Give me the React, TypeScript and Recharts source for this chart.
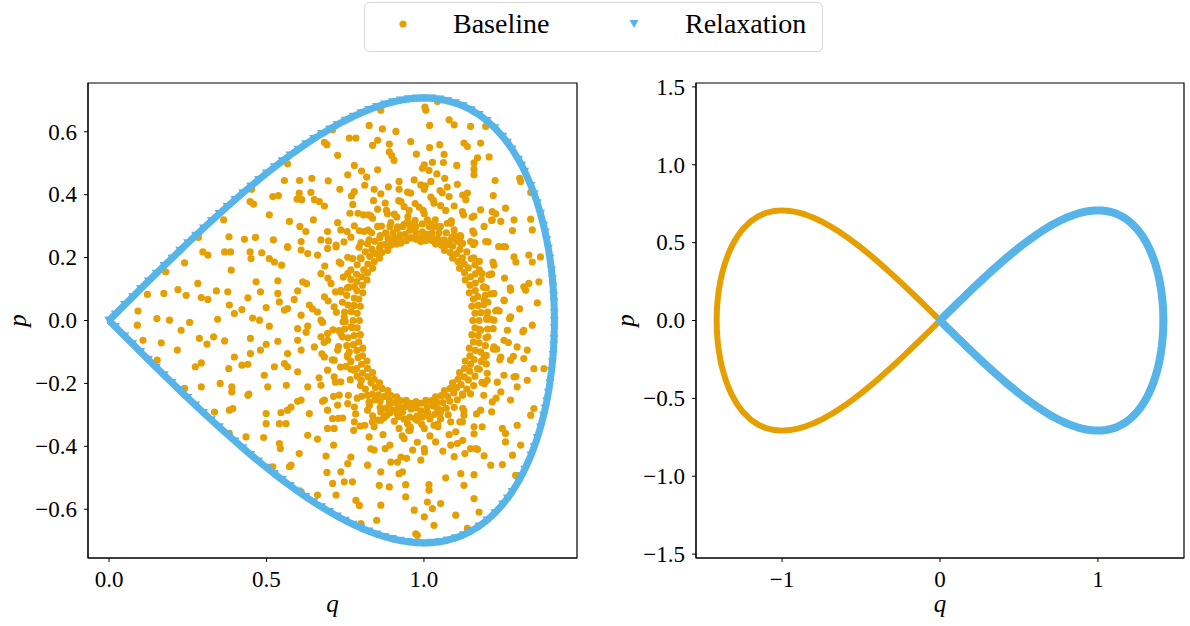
import React from "react"
import { ScatterChart, Scatter, XAxis, YAxis, ReferenceArea } from "recharts"

const ORANGE = "#E69F00"
const BLUE = "#56B4E9"
const FONT = '"Liberation Serif", "DejaVu Serif", serif'

type Pt = [number, number]

// separatrix traced by the relaxation run (upper branch, then lower branch)
const relaxUpper: Pt[] = [
  [0, 0], [0.02, 0.02], [0.05, 0.05], [0.075, 0.0749], [0.1, 0.0998], [0.125, 0.1245], [0.15, 0.1492],
  [0.175, 0.1737], [0.2, 0.198], [0.225, 0.2221], [0.25, 0.2461], [0.275, 0.2697], [0.3, 0.2932],
  [0.325, 0.3163], [0.35, 0.3391], [0.375, 0.3616], [0.4, 0.3837], [0.425, 0.4054], [0.45, 0.4266],
  [0.475, 0.4474], [0.5, 0.4677], [0.525, 0.4875], [0.55, 0.5067], [0.575, 0.5253], [0.6, 0.5433],
  [0.625, 0.5607], [0.65, 0.5773], [0.675, 0.5932], [0.7, 0.6082], [0.725, 0.6225], [0.75, 0.6358],
  [0.775, 0.6483], [0.8, 0.6597], [0.825, 0.6701], [0.85, 0.6793], [0.875, 0.6874], [0.9, 0.6942],
  [0.925, 0.6997], [0.95, 0.7037], [0.975, 0.7062], [1.0, 0.7071], [1.025, 0.7062], [1.05, 0.7034],
  [1.075, 0.6985], [1.1, 0.6913], [1.125, 0.6817], [1.15, 0.6693], [1.175, 0.6539], [1.2, 0.635],
  [1.225, 0.6121], [1.25, 0.5846], [1.265, 0.5656], [1.28, 0.5443], [1.3, 0.5118], [1.31, 0.4936],
  [1.32, 0.4737], [1.34, 0.4284], [1.35, 0.4022], [1.36, 0.373], [1.37, 0.3399], [1.38, 0.3017],
  [1.385, 0.2801], [1.39, 0.2561], [1.395, 0.2292], [1.4, 0.198], [1.405, 0.1601], [1.408, 0.1318],
  [1.41, 0.1088], [1.412, 0.079], [1.413, 0.0585], [1.414, 0.0246], [1.4142, 0],
]
const relaxLower: Pt[] = [
  [1.414, -0.0246], [1.413, -0.0585], [1.412, -0.079], [1.41, -0.1088], [1.408, -0.1318], [1.405, -0.1601],
  [1.4, -0.198], [1.395, -0.2292], [1.39, -0.2561], [1.385, -0.2801], [1.38, -0.3017], [1.37, -0.3399],
  [1.36, -0.373], [1.35, -0.4022], [1.34, -0.4284], [1.32, -0.4737], [1.31, -0.4936], [1.3, -0.5118],
  [1.28, -0.5443], [1.265, -0.5656], [1.25, -0.5846], [1.225, -0.6121], [1.2, -0.635], [1.175, -0.6539],
  [1.15, -0.6693], [1.125, -0.6817], [1.1, -0.6913], [1.075, -0.6985], [1.05, -0.7034], [1.025, -0.7062],
  [1.0, -0.7071], [0.975, -0.7062], [0.95, -0.7037], [0.925, -0.6997], [0.9, -0.6942], [0.875, -0.6874],
  [0.85, -0.6793], [0.825, -0.6701], [0.8, -0.6597], [0.775, -0.6483], [0.75, -0.6358], [0.725, -0.6225],
  [0.7, -0.6082], [0.675, -0.5932], [0.65, -0.5773], [0.625, -0.5607], [0.6, -0.5433], [0.575, -0.5253],
  [0.55, -0.5067], [0.525, -0.4875], [0.5, -0.4677], [0.475, -0.4474], [0.45, -0.4266], [0.425, -0.4054],
  [0.4, -0.3837], [0.375, -0.3616], [0.35, -0.3391], [0.325, -0.3163], [0.3, -0.2932], [0.275, -0.2697],
  [0.25, -0.2461], [0.225, -0.2221], [0.2, -0.198], [0.175, -0.1737], [0.15, -0.1492], [0.125, -0.1245],
  [0.1, -0.0998], [0.075, -0.0749], [0.05, -0.05], [0.02, -0.02], [0, 0],
]

// baseline orbit in the right panel (left lobe)
const lobeUpper: Pt[] = [
  [0, 0], [-0.05, 0.05], [-0.1, 0.0998], [-0.15, 0.1492], [-0.2, 0.198], [-0.25, 0.2461], [-0.3, 0.2932],
  [-0.35, 0.3391], [-0.4, 0.3837], [-0.45, 0.4266], [-0.5, 0.4677], [-0.55, 0.5067], [-0.6, 0.5433],
  [-0.65, 0.5773], [-0.7, 0.6082], [-0.75, 0.6358], [-0.8, 0.6597], [-0.85, 0.6793], [-0.9, 0.6942],
  [-0.95, 0.7037], [-1.0, 0.7071], [-1.05, 0.7034], [-1.1, 0.6913], [-1.15, 0.6693], [-1.2, 0.635],
  [-1.25, 0.5846], [-1.28, 0.5443], [-1.3, 0.5118], [-1.32, 0.4737], [-1.34, 0.4284], [-1.36, 0.373],
  [-1.38, 0.3017], [-1.39, 0.2561], [-1.4, 0.198], [-1.405, 0.1601], [-1.41, 0.1088], [-1.413, 0.0585],
  [-1.4142, 0],
]
const lobeLower: Pt[] = [
  [-1.413, -0.0585], [-1.41, -0.1088], [-1.405, -0.1601], [-1.4, -0.198], [-1.39, -0.2561], [-1.38, -0.3017],
  [-1.36, -0.373], [-1.34, -0.4284], [-1.32, -0.4737], [-1.3, -0.5118], [-1.28, -0.5443], [-1.25, -0.5846],
  [-1.2, -0.635], [-1.15, -0.6693], [-1.1, -0.6913], [-1.05, -0.7034], [-1.0, -0.7071], [-0.95, -0.7037],
  [-0.9, -0.6942], [-0.85, -0.6793], [-0.8, -0.6597], [-0.75, -0.6358], [-0.7, -0.6082], [-0.65, -0.5773],
  [-0.6, -0.5433], [-0.55, -0.5067], [-0.5, -0.4677], [-0.45, -0.4266], [-0.4, -0.3837], [-0.35, -0.3391],
  [-0.3, -0.2932], [-0.25, -0.2461], [-0.2, -0.198], [-0.15, -0.1492], [-0.1, -0.0998], [-0.05, -0.05], [0, 0],
]

// baseline samples, left panel: dense ring around the hole
const ringInner: Pt[] = [
  [1.155, 0], [1.152, 0.045], [1.144, 0.088], [1.131, 0.129], [1.113, 0.166], [1.091, 0.198], [1.065, 0.223],
  [1.037, 0.243], [1.006, 0.254], [0.975, 0.258], [0.944, 0.254], [0.913, 0.243], [0.885, 0.223], [0.859, 0.198],
  [0.837, 0.166], [0.819, 0.129], [0.806, 0.088], [0.798, 0.045], [0.795, 0], [0.798, -0.045], [0.806, -0.088],
  [0.819, -0.129], [0.837, -0.166], [0.859, -0.198], [0.885, -0.223], [0.913, -0.243], [0.944, -0.254],
  [0.975, -0.258], [1.006, -0.254], [1.037, -0.243], [1.065, -0.223], [1.091, -0.198], [1.113, -0.166],
  [1.131, -0.129], [1.144, -0.088], [1.152, -0.045],
]
const ringInner2: Pt[] = [
  [1.162, 0.023], [1.157, 0.068], [1.146, 0.112], [1.129, 0.152], [1.108, 0.187], [1.083, 0.216], [1.055, 0.239],
  [1.024, 0.255], [0.991, 0.263], [0.959, 0.263], [0.926, 0.255], [0.895, 0.239], [0.867, 0.216], [0.842, 0.187],
  [0.821, 0.152], [0.805, 0.112], [0.793, 0.068], [0.788, 0.023], [0.788, -0.023], [0.793, -0.068], [0.805, -0.112],
  [0.821, -0.152], [0.842, -0.187], [0.867, -0.216], [0.895, -0.239], [0.926, -0.255], [0.959, -0.263],
  [0.991, -0.263], [1.024, -0.255], [1.055, -0.239], [1.083, -0.216], [1.108, -0.187], [1.129, -0.152],
  [1.146, -0.112], [1.157, -0.068], [1.162, -0.023],
]
const ringInner3: Pt[] = [
  [1.175, 0], [1.172, 0.048], [1.163, 0.095], [1.148, 0.139], [1.128, 0.179], [1.104, 0.213], [1.075, 0.241],
  [1.043, 0.261], [1.01, 0.274], [0.975, 0.278], [0.94, 0.274], [0.907, 0.261], [0.875, 0.241], [0.846, 0.213],
  [0.822, 0.179], [0.802, 0.139], [0.787, 0.095], [0.778, 0.048], [0.775, 0], [0.778, -0.048], [0.787, -0.095],
  [0.802, -0.139], [0.822, -0.179], [0.846, -0.213], [0.875, -0.241], [0.907, -0.261], [0.94, -0.274],
  [0.975, -0.278], [1.01, -0.274], [1.043, -0.261], [1.075, -0.241], [1.104, -0.213], [1.128, -0.179],
  [1.148, -0.139], [1.163, -0.095], [1.172, -0.048],
]
const ringMid: Pt[] = [
  [1.181, 0.025], [1.171, 0.076], [1.163, 0.119], [1.141, 0.167], [1.122, 0.199], [1.091, 0.236], [1.064, 0.256],
  [1.026, 0.278], [0.995, 0.282], [0.955, 0.287], [0.924, 0.272], [0.886, 0.261], [0.859, 0.230], [0.828, 0.204],
  [0.809, 0.161], [0.787, 0.124], [0.779, 0.071], [0.769, 0.028], [0.772, -0.022], [0.776, -0.077], [0.791, -0.118],
  [0.805, -0.167], [0.832, -0.198], [0.855, -0.236], [0.890, -0.255], [0.920, -0.278], [0.959, -0.281],
  [0.991, -0.287], [1.030, -0.272], [1.060, -0.261], [1.095, -0.230], [1.118, -0.204], [1.145, -0.161],
  [1.159, -0.124], [1.175, -0.071], [1.177, -0.028],
]
const ringMid2: Pt[] = [
  [1.199, 0.004], [1.19, 0.05], [1.189, 0.106], [1.163, 0.148], [1.15, 0.197], [1.114, 0.226], [1.09, 0.265],
  [1.048, 0.279], [1.017, 0.299], [0.973, 0.296], [0.933, 0.299], [0.902, 0.279], [0.86, 0.263], [0.835, 0.226],
  [0.801, 0.196], [0.786, 0.147], [0.762, 0.106], [0.759, 0.049], [0.75, -0.003], [0.759, -0.055], [0.763, -0.1],
  [0.786, -0.153], [0.801, -0.19], [0.836, -0.234], [0.861, -0.256], [0.903, -0.285], [0.932, -0.291],
  [0.978, -0.304], [1.011, -0.291], [1.054, -0.285], [1.082, -0.256], [1.122, -0.234], [1.141, -0.189],
  [1.17, -0.153], [1.18, -0.1], [1.197, -0.055],
]
const ringMid3: Pt[] = [
  [1.202, 0.027], [1.195, 0.08], [1.182, 0.13], [1.162, 0.177], [1.136, 0.218], [1.106, 0.252], [1.071, 0.279],
  [1.034, 0.298], [0.995, 0.307], [0.955, 0.307], [0.916, 0.298], [0.879, 0.279], [0.844, 0.252], [0.814, 0.218],
  [0.788, 0.177], [0.768, 0.13], [0.755, 0.08], [0.748, 0.027], [0.748, -0.027], [0.755, -0.08], [0.768, -0.13],
  [0.788, -0.177], [0.814, -0.218], [0.844, -0.252], [0.879, -0.279], [0.916, -0.298], [0.955, -0.307],
  [0.995, -0.307], [1.034, -0.298], [1.071, -0.279], [1.106, -0.252], [1.136, -0.218], [1.162, -0.177],
  [1.182, -0.13], [1.195, -0.08], [1.202, -0.027],
]
const ringOuter: Pt[] = [
  [1.212, 0.004], [1.203, 0.058], [1.198, 0.104], [1.176, 0.161], [1.158, 0.199], [1.123, 0.245], [1.096, 0.270],
  [1.052, 0.299], [1.019, 0.307], [0.972, 0.318], [0.937, 0.306], [0.892, 0.299], [0.861, 0.270], [0.821, 0.244],
  [0.798, 0.199], [0.768, 0.161], [0.757, 0.104], [0.741, 0.058], [0.743, -0.004], [0.741, -0.052], [0.757, -0.111],
  [0.768, -0.155], [0.798, -0.207], [0.821, -0.238], [0.861, -0.276], [0.892, -0.293], [0.937, -0.313],
  [0.972, -0.312], [1.019, -0.313], [1.052, -0.293], [1.096, -0.276], [1.123, -0.238], [1.158, -0.207],
  [1.176, -0.155], [1.198, -0.111], [1.203, -0.052],
]
const ringOuter2: Pt[] = [
  [1.228, 0.031], [1.212, 0.085], [1.207, 0.145], [1.176, 0.188], [1.157, 0.241], [1.115, 0.27], [1.086, 0.309],
  [1.036, 0.32], [1.001, 0.339], [0.949, 0.33], [0.914, 0.329], [0.865, 0.3], [0.834, 0.279], [0.794, 0.233],
  [0.774, 0.197], [0.744, 0.138], [0.737, 0.091], [0.722, 0.026], [0.73, -0.032], [0.729, -0.083], [0.752, -0.146],
  [0.766, -0.188], [0.802, -0.241], [0.827, -0.27], [0.873, -0.309], [0.906, -0.32], [0.957, -0.339],
  [0.993, -0.33], [1.044, -0.329], [1.077, -0.3], [1.123, -0.279], [1.148, -0.233], [1.184, -0.197],
  [1.198, -0.138], [1.221, -0.091], [1.22, -0.026],
]
const ringFar: Pt[] = [
  [1.239, 0.03], [1.215, 0.148], [1.162, 0.247], [1.087, 0.317], [0.998, 0.349], [0.906, 0.338], [0.823, 0.287],
  [0.758, 0.201], [0.719, 0.091], [0.711, -0.03], [0.735, -0.148], [0.788, -0.247], [0.863, -0.317],
  [0.952, -0.349], [1.044, -0.338], [1.127, -0.287], [1.192, -0.201], [1.231, -0.091],
]
const ringFar2: Pt[] = [
  [1.272, 0.006], [1.255, 0.063], [1.256, 0.135], [1.219, 0.186], [1.204, 0.25], [1.155, 0.285], [1.126, 0.336],
  [1.069, 0.35], [1.03, 0.382], [0.972, 0.372], [0.92, 0.381], [0.881, 0.35], [0.824, 0.336], [0.795, 0.285],
  [0.746, 0.25], [0.731, 0.186], [0.695, 0.135], [0.696, 0.062], [0.678, -0.006], [0.683, -0.07], [0.709, -0.125],
  [0.719, -0.196], [0.76, -0.238], [0.783, -0.297], [0.836, -0.322], [0.87, -0.363], [0.931, -0.367],
  [0.979, -0.387], [1.019, -0.367], [1.08, -0.363], [1.114, -0.322], [1.167, -0.297], [1.19, -0.238],
  [1.233, -0.196], [1.241, -0.125], [1.268, -0.07],
]
const ringHalo: Pt[] = [
  [1.304, 0.037], [1.274, 0.104], [1.292, 0.186], [1.237, 0.235], [1.215, 0.318], [1.153, 0.328], [1.123, 0.399],
  [1.058, 0.406], [1.004, 0.428], [0.948, 0.408], [0.887, 0.425], [0.84, 0.381], [0.774, 0.369], [0.756, 0.283],
  [0.697, 0.253], [0.685, 0.173], [0.627, 0.117], [0.646, 0.037], [0.626, -0.037], [0.676, -0.106], [0.667, -0.182],
  [0.713, -0.241], [0.728, -0.311], [0.797, -0.336], [0.831, -0.408], [0.892, -0.396], [0.945, -0.438],
  [1.002, -0.418], [1.06, -0.415], [1.123, -0.381], [1.159, -0.36], [1.215, -0.29], [1.229, -0.247],
  [1.292, -0.178], [1.284, -0.114], [1.314, -0.036],
]

// baseline samples, left panel: scattered points
const scatterTop: Pt[] = [
  [1.003, 0.678], [1.006, 0.668], [1.043, 0.696], [0.863, 0.668], [0.826, 0.62], [0.868, 0.609], [0.911, 0.601],
  [1.018, 0.62], [1.08, 0.638], [1.096, 0.622], [1.148, 0.617], [1.196, 0.617], [0.71, 0.606], [0.763, 0.58],
  [0.784, 0.58], [0.684, 0.566], [0.692, 0.559], [0.837, 0.557], [0.853, 0.573], [0.89, 0.561], [0.958, 0.569],
  [1.018, 0.55], [1.05, 0.559], [1.127, 0.564], [1.138, 0.553], [1.18, 0.564], [0.726, 0.525], [0.89, 0.536],
  [0.898, 0.524], [0.905, 0.509], [0.976, 0.529], [1.064, 0.528], [1.207, 0.52], [1.17, 0.517], [1.159, 0.501],
  [1.159, 0.481], [1.159, 0.463], [1.027, 0.503], [1.001, 0.495], [0.995, 0.484], [1.016, 0.477], [1.062, 0.502],
  [1.104, 0.493], [1.041, 0.466], [0.567, 0.498], [0.779, 0.493], [0.802, 0.475], [0.853, 0.479], [0.758, 0.463],
  [0.818, 0.456], [0.969, 0.447], [1.022, 0.442], [1.066, 0.452], [1.226, 0.445], [1.304, 0.452], [1.307, 0.442],
  [0.557, 0.445], [0.605, 0.445], [0.644, 0.452], [0.696, 0.444], [0.733, 0.417], [0.779, 0.41], [0.77, 0.396],
  [0.812, 0.43], [0.842, 0.417], [0.863, 0.403], [0.921, 0.442], [0.921, 0.417], [0.958, 0.405], [0.99, 0.431],
  [1.001, 0.417], [1.051, 0.413], [1.074, 0.424], [1.106, 0.433], [1.08, 0.394], [1.138, 0.405], [1.133, 0.384],
  [1.22, 0.397], [1.339, 0.407], [0.453, 0.417], [0.52, 0.394], [0.538, 0.397], [0.604, 0.405], [0.597, 0.386],
  [0.612, 0.384], [0.641, 0.407], [0.652, 0.384], [0.668, 0.378], [0.684, 0.364], [0.448, 0.378], [0.459, 0.37],
  [0.509, 0.336], [0.364, 0.32], [0.765, 0.341], [0.791, 0.341], [0.808, 0.336], [0.831, 0.333], [0.853, 0.354],
  [0.877, 0.373], [0.884, 0.339], [0.927, 0.378], [0.937, 0.362], [0.953, 0.35], [0.985, 0.36], [1.022, 0.392],
  [1.032, 0.373], [1.053, 0.365], [1.096, 0.364], [1.122, 0.346], [1.159, 0.332], [1.18, 0.352], [1.217, 0.346],
  [1.228, 0.339], [1.259, 0.357], [1.286, 0.32], [1.339, 0.322], [1.344, 0.288], [0.573, 0.315], [0.606, 0.299],
  [0.625, 0.283], [0.649, 0.32], [0.694, 0.283], [0.726, 0.311], [0.736, 0.288], [0.779, 0.301], [0.81, 0.283],
  [0.837, 0.325], [0.853, 0.299], [0.879, 0.277], [0.895, 0.311], [0.916, 0.293], [0.948, 0.314], [0.974, 0.299],
  [1.011, 0.32], [1.043, 0.299], [1.074, 0.309], [1.096, 0.288], [1.117, 0.267], [1.159, 0.277], [1.191, 0.299],
  [1.217, 0.32], [1.244, 0.315], [1.281, 0.286], [0.284, 0.264], [0.381, 0.266], [0.43, 0.258], [0.465, 0.264],
  [0.522, 0.256], [0.567, 0.235], [0.61, 0.251], [0.673, 0.256], [0.721, 0.24], [0.768, 0.265], [0.8, 0.248],
  [0.826, 0.256], [0.863, 0.24], [0.895, 0.256], [0.927, 0.246], [0.958, 0.262], [0.99, 0.251], [1.022, 0.267],
  [1.053, 0.248], [1.085, 0.256], [1.117, 0.246], [1.148, 0.251], [1.196, 0.251], [1.252, 0.235],
]
const scatterMiddle: Pt[] = [
  [0.298, 0.218], [0.314, 0.208], [0.367, 0.218], [0.386, 0.218], [0.448, 0.218], [0.485, 0.215], [0.451, 0.197],
  [0.509, 0.197], [0.525, 0.186], [0.548, 0.176], [0.567, 0.232], [0.61, 0.224], [0.631, 0.213], [0.662, 0.208],
  [0.694, 0.229], [0.721, 0.234], [0.24, 0.183], [0.18, 0.155], [0.388, 0.16], [0.282, 0.118], [0.219, 0.098],
  [0.122, 0.083], [0.174, 0.086], [0.245, 0.08], [0.293, 0.073], [0.314, 0.067], [0.341, 0.094], [0.377, 0.091],
  [0.441, 0.072], [0.467, 0.123], [0.481, 0.091], [0.536, 0.126], [0.536, 0.086], [0.599, 0.094], [0.615, 0.123],
  [0.092, 0.03], [0.152, 0.006], [0.192, 0.001], [0.256, -0.006], [0.345, 0.004], [0.382, 0.049], [0.398, 0.022],
  [0.422, 0.035], [0.456, 0.008], [0.478, 0.001], [0.499, 0.041], [0.509, -0.018], [0.541, 0.059], [0.557, 0.033],
  [0.567, 0.038], [0.588, 0.067], [0.61, 0.017], [0.636, 0.049], [0.662, 0.027], [0.673, 0.001], [0.09, -0.015],
  [0.108, -0.063], [0.166, -0.071], [0.229, -0.031], [0.287, -0.057], [0.311, -0.075], [0.332, -0.052],
  [0.367, -0.065], [0.398, -0.116], [0.449, -0.057], [0.449, -0.105], [0.481, -0.094], [0.499, -0.076],
  [0.536, -0.066], [0.557, -0.137], [0.567, -0.105], [0.599, -0.026], [0.599, -0.063], [0.61, -0.094],
  [0.631, -0.018], [0.652, -0.084], [0.684, -0.116], [0.153, -0.126], [0.217, -0.094], [0.274, -0.147],
  [0.293, -0.135], [0.38, -0.153], [0.422, -0.142], [0.441, -0.139], [0.493, -0.174], [0.525, -0.147],
  [0.567, -0.147], [0.599, -0.163], [0.631, -0.211], [0.673, -0.206], [0.694, -0.158], [0.715, -0.126],
  [0.736, -0.195], [0.24, -0.216], [0.293, -0.211], [0.353, -0.2], [0.39, -0.211], [0.39, -0.227], [0.444, -0.234],
  [0.504, -0.211], [0.563, -0.206], [0.61, -0.253], [0.684, -0.253], [0.731, -0.237],
  [0.736, 0.181], [0.758, 0.149], [0.779, 0.107], [0.736, 0.096], [0.705, 0.118], [0.715, 0.043], [0.747, 0.012],
  [0.768, -0.02], [0.736, -0.041], [0.726, -0.094], [0.758, -0.116], [0.779, -0.158], [0.8, -0.19], [0.694, -0.041],
  [0.694, -0.063], [0.673, 0.149], [0.684, 0.075], [0.673, -0.052], [0.715, -0.179],
  [1.259, 0.234], [1.286, 0.202], [1.333, 0.208], [1.344, 0.186], [1.37, 0.202], [1.317, 0.107], [1.333, 0.118],
  [1.365, 0.123], [1.323, 0.096], [1.36, 0.056], [1.275, 0.096], [1.254, 0.065], [1.222, 0.086], [1.233, 0.033],
  [1.275, 0.012], [1.222, 0.001], [1.265, -0.031], [1.317, -0.031], [1.344, -0.015], [1.254, -0.063],
  [1.296, -0.084], [1.328, -0.094], [1.222, -0.084], [1.244, -0.116], [1.275, -0.126], [1.317, -0.121],
  [1.349, -0.153], [1.381, -0.153], [1.201, -0.168], [1.254, -0.174], [1.286, -0.179], [1.328, -0.19],
  [1.244, -0.227], [1.296, -0.211], [1.201, -0.19], [1.191, 0.065], [1.185, 0.149], [1.222, 0.176], [1.191, 0.107],
  [1.18, -0.031], [1.191, -0.116], [1.201, 0.012],
]
const scatterBottom: Pt[] = [
  [0.335, -0.291], [0.382, -0.285], [0.393, -0.28], [0.441, -0.238], [0.382, -0.359], [0.435, -0.37],
  [0.491, -0.372], [0.499, -0.328], [0.499, -0.296], [0.546, -0.293], [0.541, -0.328], [0.562, -0.328],
  [0.567, -0.285], [0.578, -0.275], [0.599, -0.257], [0.541, -0.391], [0.544, -0.407], [0.52, -0.465],
  [0.573, -0.465], [0.578, -0.46], [0.604, -0.423], [0.631, -0.365], [0.636, -0.296], [0.662, -0.377],
  [0.678, -0.257], [0.694, -0.285], [0.71, -0.312], [0.715, -0.343], [0.694, -0.343], [0.713, -0.396],
  [0.689, -0.431], [0.692, -0.483], [0.71, -0.518], [0.742, -0.31], [0.726, -0.269], [0.758, -0.264],
  [0.779, -0.275], [0.779, -0.322], [0.777, -0.349], [0.812, -0.333], [0.842, -0.338], [0.853, -0.317],
  [0.863, -0.291], [0.837, -0.303], [0.821, -0.285], [0.826, -0.259], [0.882, -0.301], [0.89, -0.269],
  [0.921, -0.275], [0.921, -0.306], [0.921, -0.343], [0.948, -0.328], [0.956, -0.349], [0.979, -0.317],
  [1.001, -0.343], [1.032, -0.333], [1.011, -0.301], [1.043, -0.28], [1.053, -0.312], [1.085, -0.322],
  [1.101, -0.354], [1.122, -0.322], [1.159, -0.338], [1.185, -0.338], [1.127, -0.301], [1.18, -0.285],
  [1.217, -0.259], [1.249, -0.343], [1.259, -0.359], [1.296, -0.333], [1.275, -0.253], [1.349, -0.28],
  [1.339, -0.301], [1.307, -0.396], [1.259, -0.386], [1.281, -0.428], [1.249, -0.458], [1.212, -0.46],
  [1.291, -0.492], [1.159, -0.49], [1.117, -0.487], [1.127, -0.524], [1.069, -0.5], [1.085, -0.396],
  [1.106, -0.391], [1.096, -0.433], [1.148, -0.407], [1.164, -0.407], [1.17, -0.41], [1.191, -0.43],
  [1.13, -0.423], [1.159, -0.566], [1.175, -0.609], [1.101, -0.619], [1.138, -0.661], [1.053, -0.582],
  [1.027, -0.598], [1.032, -0.651], [1.011, -0.577], [1.016, -0.54], [1.016, -0.522], [1.037, -0.386],
  [1.001, -0.407], [0.99, -0.444], [0.964, -0.412], [0.937, -0.375], [0.927, -0.434], [0.916, -0.45],
  [0.932, -0.481], [0.942, -0.522], [0.921, -0.487], [0.895, -0.45], [0.877, -0.407], [0.842, -0.412],
  [0.863, -0.481], [0.858, -0.524], [0.863, -0.587], [0.85, -0.635], [0.942, -0.561], [0.979, -0.683],
  [1.001, -0.624], [0.969, -0.603], [0.974, -0.678], [0.89, -0.529], [0.821, -0.46], [0.826, -0.37],
  [0.768, -0.434], [0.758, -0.455], [0.736, -0.481], [0.773, -0.513], [0.747, -0.513], [0.721, -0.555],
  [0.662, -0.555], [0.784, -0.572], [0.795, -0.588], [0.8, -0.646], [0.61, -0.545],
]

const leftXTicks = [0, 0.5, 1.0]
const leftYTicks = [-0.6, -0.4, -0.2, 0, 0.2, 0.4, 0.6]
const rightXTicks = [-1, 0, 1]
const rightYTicks = [-1.5, -1.0, -0.5, 0, 0.5, 1.0, 1.5]

const toRows = (pts: Pt[]) => pts.map(([q, p]) => ({ q, p }))

const baselineLeft = toRows([
  ...ringInner, ...ringInner2, ...ringInner3, ...ringMid, ...ringMid2, ...ringMid3, ...ringOuter, ...ringOuter2,
  ...ringFar, ...ringFar2, ...ringHalo, ...scatterTop, ...scatterMiddle, ...scatterBottom,
])
const relaxation = toRows([...relaxUpper, ...relaxLower])
const baselineRight = toRows([...lobeUpper, ...lobeLower])

const fmt1 = (v: number) => v.toFixed(1).replace("-", "\u2212")
const fmt0 = (v: number) => String(v).replace("-", "\u2212")

// tick labels drawn by hand so the serif face and size stick
const makeXTick = (fmt: (v: number) => string) => (props: any) => (
  <text x={props.x} y={props.y} dy="0.71em" textAnchor="middle" fontFamily={FONT} fontSize={23} fill="#000">
    {fmt(props.payload.value)}
  </text>
)
const makeYTick = (fmt: (v: number) => string) => (props: any) => (
  <text x={props.x} y={props.y} dy="0.34em" textAnchor="end" fontFamily={FONT} fontSize={23} fill="#000">
    {fmt(props.payload.value)}
  </text>
)

const Dot = (props: any) => <circle cx={props.cx} cy={props.cy} r={3.6} fill={ORANGE} />
const Tri = (props: any) => {
  const { cx, cy } = props
  return <polygon points={`${cx - 4.5},${cy - 3.8} ${cx + 4.5},${cy - 3.8} ${cx},${cy + 4.2}`} fill={BLUE} />
}
const NoMark = () => <g />

const XTitle = (props: any) => {
  const vb = props.viewBox || { x: 0, y: 0, width: 0, height: 0 }
  return (
    <text x={vb.x + vb.width / 2} y={vb.y + vb.height + 1} textAnchor="middle" fontFamily={FONT} fontStyle="italic" fontSize={25} fill="#000">
      q
    </text>
  )
}
const YTitle = (props: any) => {
  const vb = props.viewBox || { x: 0, y: 0, width: 0, height: 0 }
  const x = vb.x + 8
  const y = vb.y + vb.height / 2
  return (
    <text x={x} y={y} transform={`rotate(-90, ${x}, ${y})`} textAnchor="middle" fontFamily={FONT} fontStyle="italic" fontSize={25} fill="#000">
      p
    </text>
  )
}

function LeftPanel() {
  const xd: [number, number] = [-0.0667, 1.486]
  const yd: [number, number] = [-0.755, 0.755]
  return (
    <ScatterChart width={600} height={626} margin={{ top: 83, right: 23, bottom: 15, left: 18 }}>
      <XAxis type="number" dataKey="q" domain={xd} ticks={leftXTicks} allowDataOverflow
        height={53} tickSize={4} tickMargin={9} tick={makeXTick(fmt1)} stroke="#000" label={{ content: XTitle }} />
      <YAxis type="number" dataKey="p" domain={yd} ticks={leftYTicks} allowDataOverflow
        width={70} tickSize={4} tickMargin={7} tick={makeYTick(fmt1)} stroke="#000" label={{ content: YTitle }} />
      <ReferenceArea x1={xd[0]} x2={xd[1]} y1={yd[0]} y2={yd[1]} fill="none" stroke="#000" strokeWidth={1.2} ifOverflow="visible" />
      <Scatter name="Baseline" data={baselineLeft} shape={Dot} isAnimationActive={false} />
      <Scatter name="Relaxation" data={relaxation} shape={Tri} isAnimationActive={false}
        line={{ stroke: BLUE, strokeWidth: 7, strokeLinejoin: "round" }} />
    </ScatterChart>
  )
}

function RightPanel() {
  const xd: [number, number] = [-1.545, 1.545]
  const yd: [number, number] = [-1.525, 1.525]
  return (
    <ScatterChart width={590} height={626} margin={{ top: 83, right: 6, bottom: 15, left: 26 }}>
      <XAxis type="number" dataKey="q" domain={xd} ticks={rightXTicks} allowDataOverflow
        height={53} tickSize={4} tickMargin={9} tick={makeXTick(fmt0)} stroke="#000" label={{ content: XTitle }} />
      <YAxis type="number" dataKey="p" domain={yd} ticks={rightYTicks} allowDataOverflow
        width={70} tickSize={4} tickMargin={7} tick={makeYTick(fmt1)} stroke="#000" label={{ content: YTitle }} />
      <ReferenceArea x1={xd[0]} x2={xd[1]} y1={yd[0]} y2={yd[1]} fill="none" stroke="#000" strokeWidth={1.2} ifOverflow="visible" />
      <Scatter name="Baseline" data={baselineRight} shape={NoMark} isAnimationActive={false}
        line={{ stroke: ORANGE, strokeWidth: 6, strokeLinejoin: "round" }} />
      <Scatter name="Relaxation" data={relaxation} shape={NoMark} isAnimationActive={false}
        line={{ stroke: BLUE, strokeWidth: 8, strokeLinejoin: "round", strokeLinecap: "round" }} />
    </ScatterChart>
  )
}

function LegendBox() {
  return (
    <svg width={1190} height={60} style={{ position: "absolute", left: 0, top: 0 }}>
      <rect x={364.5} y={2.5} width={458} height={49} rx={5} fill="#fff" stroke="#d6d6d6" strokeWidth={1} />
      <circle cx={403} cy={24} r={3.6} fill={ORANGE} />
      <text x={453} y={33} fontFamily={FONT} fontSize={28} fill="#000">Baseline</text>
      <polygon points="629.5,20 638.5,20 634,28" fill={BLUE} />
      <text x={685} y={33} fontFamily={FONT} fontSize={28} fill="#000">Relaxation</text>
    </svg>
  )
}

export default function App() {
  return (
    <div style={{ position: "relative", width: 1190, height: 626, background: "#fff", overflow: "hidden", fontFamily: FONT }}>
      <style>{"body { margin: 0; }"}</style>
      <div style={{ position: "absolute", left: 0, top: 0 }}>
        <LeftPanel />
      </div>
      <div style={{ position: "absolute", left: 600, top: 0 }}>
        <RightPanel />
      </div>
      <LegendBox />
    </div>
  )
}
